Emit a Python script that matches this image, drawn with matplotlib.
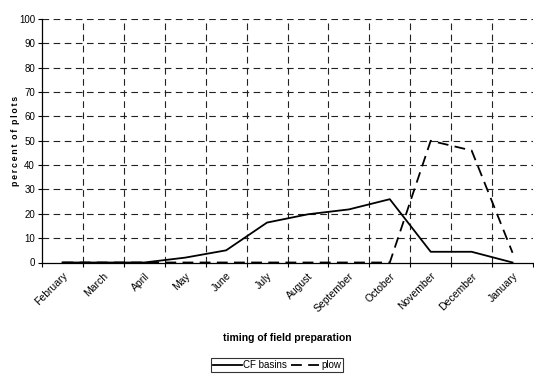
import numpy as np
import matplotlib.pyplot as plt

plt.rcParams['font.family'] = ['Liberation Sans Narrow', 'Liberation Sans', 'DejaVu Sans']

months = ["February", "March", "April", "May", "June", "July", "August",
          "September", "October", "November", "December", "January"]
cf_basins = [0, 0, 0, 2, 5, 16.4, 19.8, 21.8, 26, 4.4, 4.4, 0]
plow = [0, 0, 0, 0, 0, 0, 0, 0, 0, 50, 46, 4]

fig = plt.figure(figsize=(5.34, 3.74), dpi=100)
ax = fig.add_axes([42 / 534, 1 - 262.5 / 374, 491 / 534, 243.5 / 374])

x = np.arange(len(months))
ax.plot(x, cf_basins, color="black", lw=1.3, label="CF basins")
ax.plot(x, plow, color="black", lw=1.3, dashes=(6, 3.5), label="plow")

ax.set_xlim(-0.5, len(months) - 0.5)
ax.set_ylim(0, 100)
ax.set_yticks(np.arange(0, 101, 10))
ax.set_xticks(x)
ax.set_xticks(np.arange(-0.5, len(months), 1), minor=True)
ax.set_xticklabels(months, rotation=45, ha="right", rotation_mode="anchor", fontsize=7.5)
ax.tick_params(axis="x", which="major", length=0, pad=6)
ax.tick_params(axis="x", which="minor", length=3, width=0.8, direction="out")
ax.tick_params(axis="y", length=3, width=0.8, labelsize=7, pad=2)

for yv in np.arange(10, 101, 10):
    ax.axhline(yv, color="#222222", lw=0.8, dashes=(6, 4), zorder=0)
for xv in np.arange(0.5, len(months) - 1, 1):
    ax.axvline(xv, color="#222222", lw=0.8, dashes=(6, 4), zorder=0)

for s in ["top", "right"]:
    ax.spines[s].set_visible(False)
for s in ["left", "bottom"]:
    ax.spines[s].set_linewidth(0.9)

ylab = "  ".join("\u2009".join(w) for w in ["percent", "of", "plots"])
ax.set_ylabel(ylab, fontsize=6.3, fontweight="bold", labelpad=-1)
ax.set_xlabel("timing of field preparation", fontsize=7.5, fontweight="bold", labelpad=14)

leg = fig.legend(loc="center", bbox_to_anchor=(277 / 534, 1 - 365 / 374), ncol=2,
                 fontsize=7, frameon=True, fancybox=False, handlelength=3,
                 handletextpad=0.1, columnspacing=0.4, borderpad=0.25,
                 borderaxespad=0)
leg.get_frame().set_edgecolor("black")
leg.get_frame().set_linewidth(0.8)

fig.savefig("out.png", dpi=100)
